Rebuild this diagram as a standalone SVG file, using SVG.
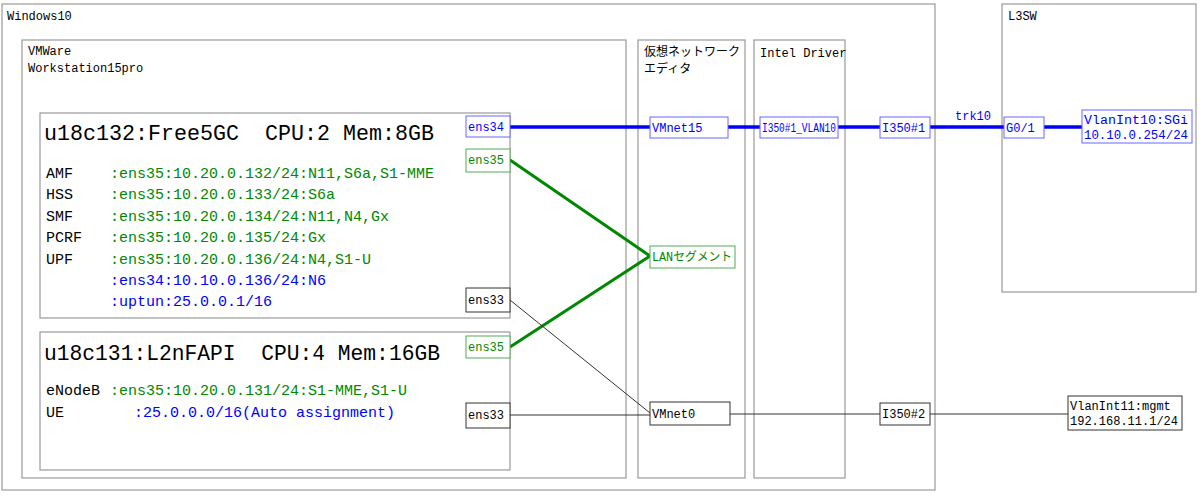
<svg xmlns="http://www.w3.org/2000/svg" width="1200" height="497" viewBox="0 0 1200 497">
<style>
text{font-family:"Liberation Mono","Noto Sans CJK JP",monospace;font-size:12px;fill:#000}
.grp{fill:#fff;stroke:#999;stroke-width:1.2}
.blue{fill:#fff;stroke:#6666ff}
.green{fill:#fff;stroke:#55aa55}
.blk{fill:#fff;stroke:#333}
.tb{fill:#00f}.tg{fill:#080}
.big{font-size:22px;white-space:pre}
.mid{font-size:15px}
.lb{stroke:#00f;stroke-width:3.5;fill:none}
.lg{stroke:#080;stroke-width:3;fill:none}
.lk{stroke:#333;stroke-width:1;fill:none}
</style>
<rect width="1200" height="497" fill="#fff"/>
<g id="windows10"><rect class="grp" x="2" y="4" width="933" height="486"/><text x="7" y="20">Windows10</text></g>
<g id="vmware"><rect class="grp" x="22" y="40" width="604" height="438"/><text x="28" y="55">VMWare</text><text x="28" y="72">Workstation15pro</text></g>
<g id="vnet-editor"><rect class="grp" x="638" y="40" width="107" height="438"/><text x="644" y="56">仮想ネットワーク</text><text x="644" y="73">エディタ</text></g>
<g id="intel-driver"><rect class="grp" x="754" y="40" width="91" height="438"/><text x="760" y="57">Intel Driver</text></g>
<g id="l3sw"><rect class="grp" x="1002" y="4" width="194" height="288"/><text x="1008" y="20">L3SW</text></g>
<g id="u18c132"><rect class="grp" x="40" y="113" width="470" height="205"/>
<text class="big" x="44" y="140" textLength="390" lengthAdjust="spacingAndGlyphs">u18c132:Free5GC  CPU:2 Mem:8GB</text>
<text class="mid" x="46" y="178">AMF</text><text class="mid tg" x="110" y="178">:ens35:10.20.0.132/24:N11,S6a,S1-MME</text>
<text class="mid" x="46" y="199">HSS</text><text class="mid tg" x="110" y="199">:ens35:10.20.0.133/24:S6a</text>
<text class="mid" x="46" y="221">SMF</text><text class="mid tg" x="110" y="221">:ens35:10.20.0.134/24:N11,N4,Gx</text>
<text class="mid" x="46" y="242">PCRF</text><text class="mid tg" x="110" y="242">:ens35:10.20.0.135/24:Gx</text>
<text class="mid" x="46" y="264">UPF</text><text class="mid tg" x="110" y="264">:ens35:10.20.0.136/24:N4,S1-U</text>
<text class="mid tb" x="110" y="285">:ens34:10.10.0.136/24:N6</text>
<text class="mid tb" x="110" y="306">:uptun:25.0.0.1/16</text>
</g>
<g id="u18c131"><rect class="grp" x="40" y="332" width="470" height="138"/>
<text class="big" x="44" y="360" textLength="396" lengthAdjust="spacingAndGlyphs">u18c131:L2nFAPI  CPU:4 Mem:16GB</text>
<text class="mid" x="46" y="395">eNodeB</text><text class="mid tg" x="110" y="395">:ens35:10.20.0.131/24:S1-MME,S1-U</text>
<text class="mid" x="46" y="417">UE</text><text class="mid tb" x="134" y="417">:25.0.0.0/16(Auto assignment)</text></g>
<g id="connectors">
<path class="lb" d="M510 127H650M728 127H760M838 127H880M930 127H1004M1044 127H1082"/>
<path class="lg" d="M510 160L650 256M510 347L650 256"/>
<path class="lk" d="M510 300L650 413M510 415H650M730 414H880M930 414H1068"/>
<text class="tb" x="955" y="120" font-size="13">trk10</text>
</g>
<g id="ens34-a"><rect class="blue" x="466" y="116" width="44" height="21"/><text class="tb" x="468" y="131">ens34</text></g>
<g id="ens35-a"><rect class="green" x="466" y="149" width="44" height="23"/><text class="tg" x="468" y="164">ens35</text></g>
<g id="ens33-a"><rect class="blk" x="466" y="288" width="44" height="24"/><text x="468" y="304">ens33</text></g>
<g id="ens35-b"><rect class="green" x="466" y="336" width="44" height="22"/><text class="tg" x="468" y="351">ens35</text></g>
<g id="ens33-b"><rect class="blk" x="466" y="403" width="44" height="25"/><text x="468" y="419">ens33</text></g>
<g id="vmnet15"><rect class="blue" x="650" y="117" width="78" height="21"/><text class="tb" x="652" y="132">VMnet15</text></g>
<g id="lanseg"><rect class="green" x="650" y="246" width="85" height="22"/><text class="tg" x="652" y="261" textLength="80" lengthAdjust="spacingAndGlyphs">LANセグメント</text></g>
<g id="vmnet0"><rect class="blk" x="650" y="402" width="80" height="23"/><text x="652" y="418">VMnet0</text></g>
<g id="i350-vlan10"><rect class="blue" x="760" y="117" width="78" height="21"/><text class="tb" x="762" y="132" textLength="74" lengthAdjust="spacingAndGlyphs">I350#1_VLAN10</text></g>
<g id="i350-1"><rect class="blue" x="880" y="117" width="50" height="21"/><text class="tb" x="882" y="132">I350#1</text></g>
<g id="i350-2"><rect class="blk" x="880" y="403" width="50" height="22"/><text x="882" y="418">I350#2</text></g>
<g id="g01"><rect class="blue" x="1004" y="117" width="40" height="21"/><text class="tb" x="1006" y="132">G0/1</text></g>
<g id="vlanint10"><rect class="blue" x="1082" y="110" width="110" height="33"/><text class="tb" x="1084" y="124" textLength="104" lengthAdjust="spacingAndGlyphs">VlanInt10:SGi</text><text class="tb" x="1084" y="139" textLength="104" lengthAdjust="spacingAndGlyphs">10.10.0.254/24</text></g>
<g id="vlanint11"><rect class="blk" x="1068" y="396" width="114" height="34"/><text x="1070" y="410">VlanInt11:mgmt</text><text x="1070" y="425">192.168.11.1/24</text></g>
</svg>
